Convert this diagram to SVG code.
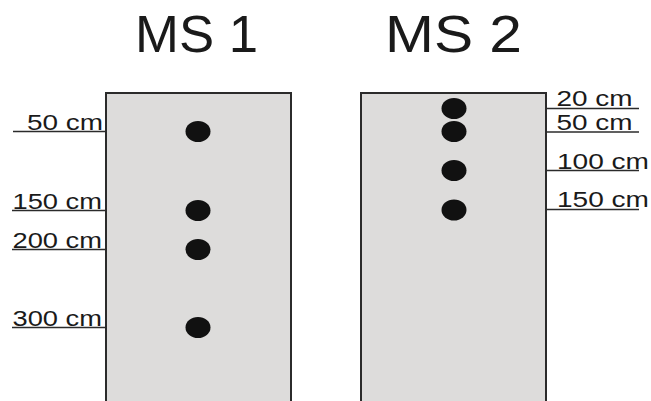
<svg xmlns="http://www.w3.org/2000/svg" width="651" height="401" viewBox="0 0 651 401">
<style>
.col{fill:#dddcdb;stroke:#2b2b2b;stroke-width:2}
.dot{fill:#111}
.title{font-family:"Liberation Sans",Arial,sans-serif;font-size:52px;fill:#1a1a1a}
.lbl{font-family:"Liberation Sans",Arial,sans-serif;font-size:22px;fill:#1a1a1a}
.tick{stroke:#2b2b2b;stroke-width:1.6;fill:none}
</style>
<rect width="651" height="401" fill="#fff"/>
<g id="ms1">
<text class="title" x="135" y="52" textLength="123" lengthAdjust="spacingAndGlyphs">MS 1</text>
<rect class="col" x="106" y="93" width="185" height="320"/>
<ellipse class="dot" cx="198" cy="131.5" rx="12.5" ry="10.5"/>
<ellipse class="dot" cx="198" cy="210.5" rx="12.5" ry="10.5"/>
<ellipse class="dot" cx="198" cy="249.5" rx="12.5" ry="10.5"/>
<ellipse class="dot" cx="198" cy="327.5" rx="12.5" ry="10.5"/>
</g>
<g id="ms2">
<text class="title" x="385" y="52" textLength="137" lengthAdjust="spacingAndGlyphs">MS 2</text>
<rect class="col" x="361" y="93" width="185" height="320"/>
<ellipse class="dot" cx="454" cy="108.5" rx="12.5" ry="10.5"/>
<ellipse class="dot" cx="454" cy="131.5" rx="12.5" ry="10.5"/>
<ellipse class="dot" cx="454" cy="170.5" rx="12.5" ry="10.5"/>
<ellipse class="dot" cx="454" cy="210" rx="12.5" ry="10.5"/>
</g>
<g id="connectors">
<line class="tick" x1="13" y1="131.5" x2="106" y2="131.5"/>
<line class="tick" x1="12" y1="210.5" x2="106" y2="210.5"/>
<line class="tick" x1="12" y1="249.5" x2="106" y2="249.5"/>
<line class="tick" x1="12" y1="327.5" x2="106" y2="327.5"/>
<line class="tick" x1="546" y1="108.5" x2="639" y2="108.5"/>
<line class="tick" x1="546" y1="132" x2="639" y2="132"/>
<line class="tick" x1="546" y1="170.5" x2="639" y2="170.5"/>
<line class="tick" x1="546" y1="209.5" x2="639" y2="209.5"/>
</g>
<g id="labels">
<text class="lbl" x="27" y="129.5" textLength="76" lengthAdjust="spacingAndGlyphs">50 cm</text>
<text class="lbl" x="12.5" y="208.5" textLength="89.5" lengthAdjust="spacingAndGlyphs">150 cm</text>
<text class="lbl" x="12.5" y="247.5" textLength="89.5" lengthAdjust="spacingAndGlyphs">200 cm</text>
<text class="lbl" x="12.5" y="325.5" textLength="89.5" lengthAdjust="spacingAndGlyphs">300 cm</text>
<text class="lbl" x="556.5" y="106" textLength="76" lengthAdjust="spacingAndGlyphs">20 cm</text>
<text class="lbl" x="556.5" y="130" textLength="76" lengthAdjust="spacingAndGlyphs">50 cm</text>
<text class="lbl" x="557" y="168.5" textLength="92" lengthAdjust="spacingAndGlyphs">100 cm</text>
<text class="lbl" x="557" y="207" textLength="92" lengthAdjust="spacingAndGlyphs">150 cm</text>
</g>
</svg>
